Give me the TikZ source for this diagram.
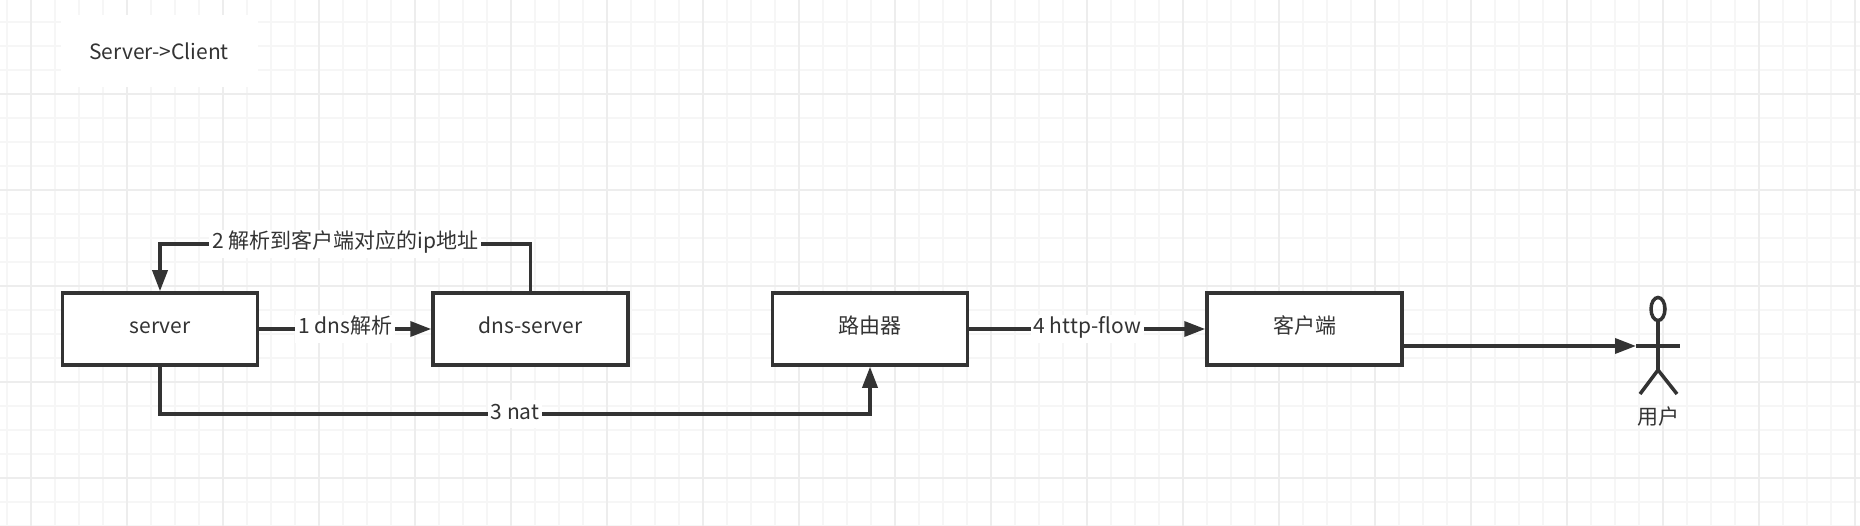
\documentclass[tikz,border=0pt]{standalone}
\usepackage{fontspec}
\setmainfont{Noto Sans CJK SC}
\usetikzlibrary{arrows.meta,positioning,shapes.geometric}
\definecolor{ink}{HTML}{333333}
\definecolor{minorgrid}{HTML}{F6F6F6}
\definecolor{majorgrid}{HTML}{EDEDED}
\tikzset{
  box/.style={draw=ink,line width=3.5pt,fill=white,minimum width=195pt,minimum height=72pt,inner sep=0pt,text=ink,text height=16pt,text depth=6pt},
  flow/.style={draw=ink,line width=3.5pt,-{Triangle[length=21pt,width=15pt]}},
  edgelabel/.style={fill=white,text=ink,inner sep=3pt,outer sep=0pt,text height=16pt,text depth=6pt},
  limb/.style={draw=ink,line width=3.5pt}
}
\begin{document}
\begin{tikzpicture}[x=1pt,y=-1pt,font=\fontsize{21pt}{25pt}\selectfont]
  \useasboundingbox (0,0) rectangle (1860,526);
  \clip (0,0) rectangle (1860,526);
  \fill[white] (0,0) rectangle (1860,526);
  % background grid
  \foreach \x in {7,31,...,1855}
    \draw[minorgrid,line width=1.5pt] (\x,0) -- (\x,526);
  \foreach \y in {22,46,...,526}
    \draw[minorgrid,line width=1.5pt] (0,\y) -- (1860,\y);
  \foreach \x in {31,127,...,1855}
    \draw[majorgrid,line width=1.5pt] (\x,0) -- (\x,526);
  \foreach \y in {94,190,...,526}
    \draw[majorgrid,line width=1.5pt] (0,\y) -- (1860,\y);

  \node[fill=white,minimum width=197pt,minimum height=72pt,inner sep=0pt,text=ink] (title) at (159,51) {Server->Client};

  \node[box] (server) at (160,329) {server};
  \node[box,right=172pt of server] (dnsserver) {dns-server};
  \node[box] (router) at (870,329) {路由器};
  \node[box,right=236pt of router] (client) {客户端};

  \coordinate (topleft) at (160,244);
  \coordinate (topright) at (dnsserver.north |- topleft);
  \coordinate (bottomleft) at (160,414);
  \coordinate (bottomright) at (router.south |- bottomleft);

  \draw[flow] (server) -- node[edgelabel] (lblone) {1 dns解析} (dnsserver);
  \draw[flow] (dnsserver.north) -- (topright) -- node[edgelabel] (lbltwo) {2 解析到客户端对应的ip地址} (topleft) -- (server.north);
  \draw[flow] (server.south) -- (bottomleft) -- node[edgelabel] (lblthree) {3 nat} (bottomright) -- (router.south);
  \draw[flow] (router) -- node[edgelabel] (lblfour) {4 http-flow} (client);

  % actor
  \node[draw=ink,line width=3.5pt,ellipse,minimum width=14pt,minimum height=23pt,inner sep=0pt] (head) at (1658,309) {};
  \coordinate (hip) at (1658,370);
  \coordinate (armleft) at (1636,346);
  \coordinate (armright) at (1680,346);
  \coordinate (footleft) at (1640,394);
  \coordinate (footright) at (1677,394);
  \draw[limb] (head.south) -- (hip);
  \draw[limb] (armleft) -- (armright);
  \draw[limb] (footleft) -- (hip) -- (footright);
  \node[text=ink] (user) at (1658,417) {用户};

  \coordinate (clientout) at (client.east |- armleft);
  \draw[flow] (clientout) -- (armleft);
\end{tikzpicture}
\end{document}
